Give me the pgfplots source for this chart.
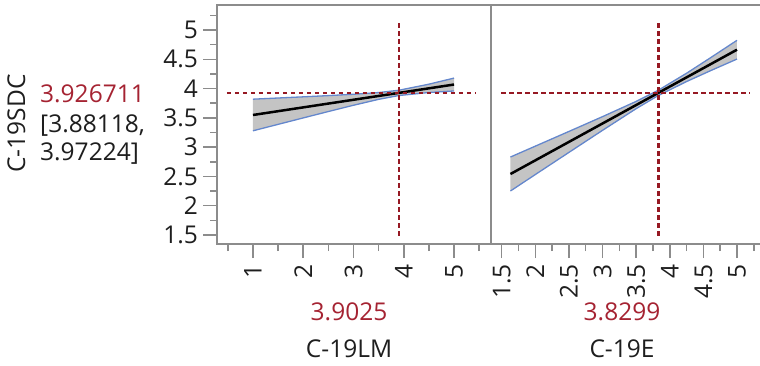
\documentclass[border=0pt]{standalone}
\usepackage{fontspec}
\setmainfont{Open Sans}
\usepackage{pgfplots}
\pgfplotsset{compat=1.18}
\definecolor{frame}{RGB}{140,140,140}
\definecolor{jred}{RGB}{165,35,50}
\definecolor{dred}{RGB}{150,25,35}
\definecolor{band}{RGB}{196,196,196}
\definecolor{cib}{RGB}{100,135,205}
\definecolor{txt}{RGB}{30,30,30}
\pgfplotsset{
  prof/.style={
    scale only axis, anchor=south west,
    height=239pt,
    ymin=1.346, ymax=5.427,
    axis line style={draw=frame, line width=1.5pt},
    every tick/.style={draw=frame, line width=1.5pt},
    major tick length=14pt, minor tick length=7pt,
    tick align=outside,
    xtick pos=bottom, ytick pos=left,
    tick label style={font=\fontsize{24.5}{29}\selectfont, text=txt},
    /pgf/number format/assume math mode=true,
    xticklabel style={yshift=-6pt, rotate=90, anchor=east, inner sep=0pt},
    yticklabel style={inner sep=0pt, xshift=-5pt},
    clip=false,
  },
  band/.style={fill=band, draw=none},
  cil/.style={cib, line width=1.3pt},
  pred/.style={black, line width=2.5pt},
  refl/.style={dred, line width=2.5pt, dash pattern=on 4.5pt off 3.5pt},
}
\begin{document}
\begin{tikzpicture}[x=1pt,y=1pt]
\useasboundingbox (0pt,0pt) rectangle (760pt,365pt);
% left panel
\begin{axis}[prof, at={(217pt,121pt)}, width=274pt,
  xmin=0.284, xmax=5.736,
  xtick={1,2,3,4,5}, minor xtick={0.5,1.5,2.5,3.5,4.5,5.5},
  ytick={1.5,2,2.5,3,3.5,4,4.5,5}, yticklabels={1.5,2,2.5,3,3.5,4,4.5,5},
  minor ytick={1.75,2.25,2.75,3.25,3.75,4.25,4.75,5.25},
  xticklabels={1,2,3,4,5}]
\addplot[band] coordinates {(1,3.819) (1.5,3.839) (2,3.859) (2.5,3.880) (3,3.903) (3.5,3.932) (3.9,3.971) (4.5,4.075) (5,4.179)
  (5,3.959) (4.5,3.933) (3.9,3.881) (3.5,3.816) (3,3.715) (2.5,3.608) (2,3.499) (1.5,3.389) (1,3.279)} -- cycle;
\addplot[cil] coordinates {(1,3.819) (1.5,3.839) (2,3.859) (2.5,3.880) (3,3.903) (3.5,3.932) (3.9,3.971) (4.5,4.075) (5,4.179)};
\addplot[cil] coordinates {(1,3.279) (1.5,3.389) (2,3.499) (2.5,3.608) (3,3.715) (3.5,3.816) (3.9,3.881) (4.5,3.933) (5,3.959)};
\addplot[pred] coordinates {(1,3.549) (5,4.069)};
\addplot[refl] coordinates {(0.48,3.926711) (5.42,3.926711)};
\addplot[refl] coordinates {(3.9025,1.49) (3.9025,5.14)};
\end{axis}
% right panel
\begin{axis}[prof, at={(491pt,121pt)}, width=271pt,
  xmin=1.341, xmax=5.372,
  xtick={1.5,2,2.5,3,3.5,4,4.5,5}, xticklabels={1.5,2,2.5,3,3.5,4,4.5,5},
  minor xtick={1.75,2.25,2.75,3.25,3.75,4.25,4.75,5.25},
  ytick=\empty]
\addplot[band] coordinates {(1.63,2.831) (2,3.017) (2.5,3.268) (3,3.521) (3.5,3.781) (3.83,3.972) (4.25,4.262) (4.6,4.522) (5,4.824)
  (5,4.504) (4.6,4.302) (4.25,4.120) (3.83,3.882) (3.5,3.657) (3,3.287) (2.5,2.910) (2,2.532) (1.63,2.251)} -- cycle;
\addplot[cil] coordinates {(1.63,2.831) (2,3.017) (2.5,3.268) (3,3.521) (3.5,3.781) (3.83,3.972) (4.25,4.262) (4.6,4.522) (5,4.824)};
\addplot[cil] coordinates {(1.63,2.251) (2,2.532) (2.5,2.910) (3,3.287) (3.5,3.657) (3.83,3.882) (4.25,4.120) (4.6,4.302) (5,4.504)};
\addplot[pred] coordinates {(1.63,2.541) (5,4.664)};
\addplot[refl] coordinates {(1.49,3.926711) (5.18,3.926711)};
\addplot[refl] coordinates {(3.8299,1.49) (3.8299,5.14)};
\end{axis}
% texts
\begin{scope}[every node/.style={font=\fontsize{24.5}{29}\selectfont, inner sep=0pt}]
\node[rotate=90, anchor=base, text=txt] at (25pt,241.5pt) {C-19SDC};
\node[anchor=base west, text=jred] at (40pt,263pt) {3.926711};
\node[anchor=base west, text=txt] at (40pt,233pt) {[3.88118,};
\node[anchor=base west, text=txt] at (40pt,205pt) {3.97224]};
\node[anchor=base, text=jred] at (349pt,45pt) {3.9025};
\node[anchor=base, text=txt] at (349pt,8pt) {C-19LM};
\node[anchor=base, text=jred] at (622pt,45pt) {3.8299};
\node[anchor=base, text=txt] at (622pt,8pt) {C-19E};
\end{scope}
\end{tikzpicture}
\end{document}
